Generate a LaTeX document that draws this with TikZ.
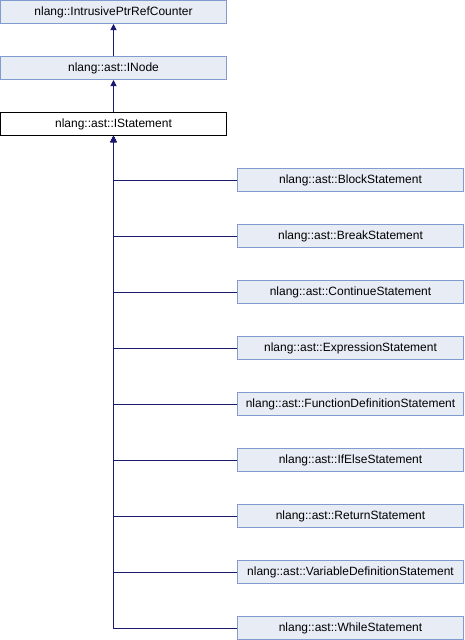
\documentclass[tikz,border=0pt]{standalone}
\usepackage{fontspec}
\setmainfont{Liberation Sans}
\usetikzlibrary{arrows.meta}
\definecolor{boxfill}{RGB}{232,236,245}
\definecolor{boxline}{RGB}{128,155,205}
\definecolor{edgecol}{RGB}{25,25,112}
\tikzset{
  cls/.style={draw=boxline, fill=boxfill, line width=1pt, rectangle, minimum width=226pt, minimum height=23pt, inner sep=0pt, font=\fontsize{12}{14}\selectfont, text=black},
  clsmain/.style={cls, draw=black, fill=white},
  edge/.style={draw=edgecol, line width=1pt, -{Triangle[length=6pt,width=6pt]}},
}
\begin{document}
\begin{tikzpicture}[x=1pt,y=-1pt]
\useasboundingbox (0,0) rectangle (464,640);
\node[cls] (cnt) at (113.5,12) {nlang::IntrusivePtrRefCounter};
\node[cls] (inode) at (113.5,68) {nlang::ast::INode};
\node[clsmain] (stmt) at (113.5,124) {nlang::ast::IStatement};
\node[cls] (c1) at (350.5,180) {nlang::ast::BlockStatement};
\node[cls] (c2) at (350.5,236) {nlang::ast::BreakStatement};
\node[cls] (c3) at (350.5,292) {nlang::ast::ContinueStatement};
\node[cls] (c4) at (350.5,348) {nlang::ast::ExpressionStatement};
\node[cls] (c5) at (350.5,404) {nlang::ast::FunctionDefinitionStatement};
\node[cls] (c6) at (350.5,460) {nlang::ast::IfElseStatement};
\node[cls] (c7) at (350.5,516) {nlang::ast::ReturnStatement};
\node[cls] (c8) at (350.5,572) {nlang::ast::VariableDefinitionStatement};
\node[cls] (c9) at (350.5,628) {nlang::ast::WhileStatement};
\draw[edge] (inode) -- (cnt);
\draw[edge] (stmt) -- (inode);
\foreach \c in {c1,c2,c3,c4,c5,c6,c7,c8,c9}{
  \draw[edge] (\c.west) -| (stmt.south);
}
\end{tikzpicture}
\end{document}
